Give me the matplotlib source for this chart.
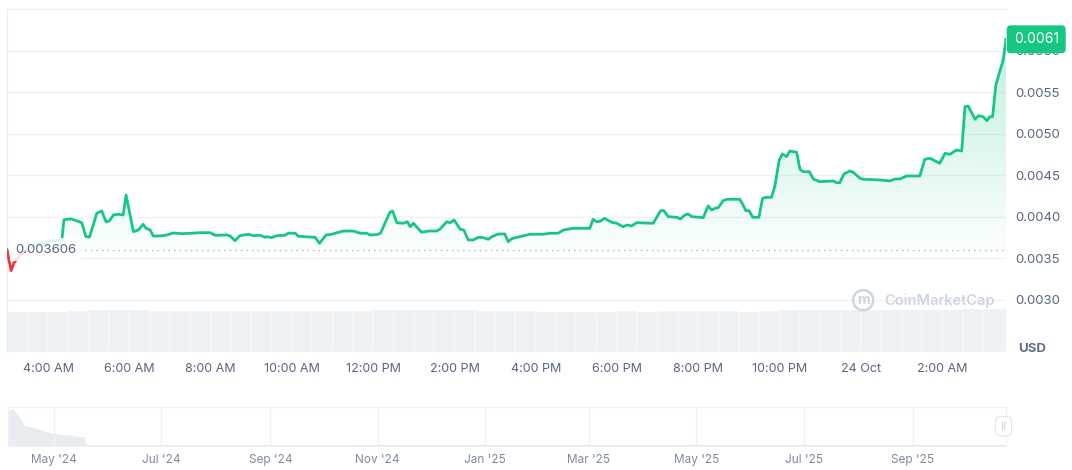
import numpy as np
import pandas as pd
import matplotlib
matplotlib.use('Agg')
from matplotlib import pyplot as plt
from matplotlib.patches import Polygon, Rectangle
import matplotlib.transforms as mtransforms

plt.rcParams['font.family'] = ['Inter', 'DejaVu Sans']

# ---------------- price data (hours counted from 00:00, 23 Oct) ----------------
hours = [2.99, 3.09, 3.16, 3.31, 3.68, 4.05, 4.34, 4.39, 4.46, 4.58, 4.83, 4.93, 5.02, 5.20, 5.32,
         5.43, 5.51, 5.61, 5.73, 5.85, 5.92, 6.10, 6.22, 6.34, 6.41, 6.51, 6.59, 6.76, 6.92, 7.08,
         7.29, 7.54, 7.74, 7.99, 8.11, 8.40, 8.48, 8.60, 8.72, 8.93, 9.05, 9.22, 9.34, 9.38, 9.50,
         9.63, 9.83, 9.91, 10.08, 10.16, 10.57, 10.68, 10.84, 10.98, 11.26, 11.51, 11.68, 11.84, 11.92, 12.09,
         12.18, 12.41, 12.48, 12.58, 12.74, 12.84, 12.91, 12.99, 13.19, 13.36, 13.56, 13.64, 13.81, 13.89, 13.99,
         14.14, 14.23, 14.34, 14.46, 14.59, 14.71, 14.83, 14.92, 15.08, 15.24, 15.32, 15.41, 15.61, 15.86, 16.18,
         16.35, 16.55, 16.68, 16.92, 17.33, 17.41, 17.50, 17.58, 17.69, 17.87, 17.99, 18.15, 18.25, 18.36, 18.48,
         18.89, 19.07, 19.15, 19.26, 19.47, 19.56, 19.67, 19.75, 19.84, 20.12, 20.24, 20.33, 20.41, 20.49, 20.61,
         20.70, 21.02, 21.10, 21.17, 21.25, 21.34, 21.49, 21.58, 21.68, 21.80, 21.88, 21.99, 22.07, 22.17, 22.25,
         22.42, 22.50, 22.58, 22.73, 22.83, 22.99, 23.32, 23.40, 23.48, 23.58, 23.73, 23.81, 23.98, 24.06, 24.47,
         24.71, 24.84, 24.96, 25.12, 25.45, 25.57, 25.70, 25.94, 26.07, 26.19, 26.35, 26.48, 26.56, 26.64, 26.81,
         26.89, 27.01, 27.10, 27.17, 27.24, 27.32, 27.50, 27.57]
price = [0.003606, 0.003353, 0.003446, 0.003542, 0.003663, 0.003711, 0.003723, 0.003964, 0.003972, 0.003976,
         0.003931, 0.003763, 0.003759, 0.004045, 0.004072, 0.003940, 0.003955, 0.004024, 0.004033, 0.004024,
         0.004265, 0.003823, 0.003843, 0.003912, 0.003864, 0.003843, 0.003771, 0.003771, 0.003783, 0.003807,
         0.003799, 0.003804, 0.003811, 0.003811, 0.003780, 0.003783, 0.003771, 0.003714, 0.003775, 0.003792,
         0.003775, 0.003780, 0.003755, 0.003763, 0.003751, 0.003775, 0.003780, 0.003804, 0.003804, 0.003767,
         0.003755, 0.003683, 0.003783, 0.003792, 0.003831, 0.003831, 0.003804, 0.003804, 0.003783, 0.003787,
         0.003804, 0.004057, 0.004072, 0.003931, 0.003924, 0.003943, 0.003883, 0.003924, 0.003816, 0.003831,
         0.003831, 0.003852, 0.003943, 0.003931, 0.003964, 0.003852, 0.003843, 0.003723, 0.003723, 0.003755,
         0.003751, 0.003731, 0.003763, 0.003795, 0.003795, 0.003702, 0.003739, 0.003763, 0.003792, 0.003792,
         0.003804, 0.003804, 0.003843, 0.003864, 0.003864, 0.003972, 0.003943, 0.003948, 0.003984, 0.003936,
         0.003924, 0.003883, 0.003904, 0.003892, 0.003931, 0.003924, 0.004076, 0.004076, 0.004004, 0.003996,
         0.003976, 0.004024, 0.004036, 0.004004, 0.003992, 0.004133, 0.004084, 0.004105, 0.004112, 0.004196,
         0.004213, 0.004213, 0.004145, 0.004076, 0.004076, 0.003996, 0.003996, 0.004225, 0.004237, 0.004237,
         0.004365, 0.004687, 0.004759, 0.004727, 0.004795, 0.004780, 0.004575, 0.004546, 0.004546, 0.004458,
         0.004425, 0.004434, 0.004413, 0.004413, 0.004518, 0.004554, 0.004539, 0.004466, 0.004454, 0.004446,
         0.004434, 0.004458, 0.004458, 0.004494, 0.004494, 0.004695, 0.004707, 0.004647, 0.004767, 0.004755,
         0.004807, 0.004795, 0.005329, 0.005337, 0.005177, 0.005220, 0.005208, 0.005160, 0.005208, 0.005208,
         0.005590, 0.005892, 0.006141]
open_price = 0.003606
last_label = '0.0061'

# volume bars, one per half hour (relative units)
vol_start = 3.0
volume = [39.5, 39.5, 40, 40.5, 41.5, 42, 41.5, 41, 41, 41, 40.5, 41, 40.5, 40.5, 41, 40.5, 41, 41,
          41.5, 42, 41.5, 41.5, 41.5, 41, 41, 40.5, 40, 40, 40, 40, 40.5, 40, 40.5, 40.5, 40.5, 40.5,
          40, 40.5, 41.5, 42, 41.5, 41.5, 41.5, 41.5, 42, 42, 42, 42.5, 42.5, 43]

yticks = [0.0030, 0.0035, 0.0040, 0.0045, 0.0050, 0.0055, 0.0060]
xticks = [4, 6, 8, 10, 12, 14, 16, 18, 20, 22, 24, 26]
xtick_labels = ['4:00 AM', '6:00 AM', '8:00 AM', '10:00 AM', '12:00 PM', '2:00 PM', '4:00 PM',
                '6:00 PM', '8:00 PM', '10:00 PM', '24 Oct', '2:00 AM']

# navigator (full history)
nav_dates = ['2024-04-05', '2024-04-08', '2024-04-12', '2024-04-14', '2024-04-18', '2024-04-22',
             '2024-04-25', '2024-04-29', '2024-05-05', '2024-05-10', '2024-05-18', '2024-05-19',
             '2025-10-24']
nav_price = [0.386, 0.42, 0.306, 0.229, 0.211, 0.191, 0.165, 0.142, 0.126, 0.111, 0.096, 0.004, 0.006]
nav_ticks = ['2024-05-01', '2024-07-01', '2024-09-01', '2024-11-01', '2025-01-01', '2025-03-01',
             '2025-05-01', '2025-07-01', '2025-09-01']

GREEN = '#16c784'
RED = '#ea3943'
GRID = '#eff2f5'
TXT = '#58667e'

hours = np.array(hours)
price = np.array(price)
xmin, xmax = 2.99, 27.57
ymin, ymax = 0.0023735, 0.006506

fig = plt.figure(figsize=(10.72, 4.70), dpi=100)
ax = fig.add_axes([0.00653, 0.2511, 0.9319, 0.7298])

# volume underneath
vax = ax.twinx()
vol_x = vol_start + 0.5 * np.arange(len(volume))
vax.bar(vol_x, volume, width=0.5, align='edge', color='#eef1f4', edgecolor='white', linewidth=0.3)
vax.set_ylim(0, 343)
vax.axis('off')
vax.set_zorder(0)
ax.set_zorder(1)
ax.patch.set_visible(False)

# gradient fill above the open price
above = np.maximum(price, open_price)
verts = np.column_stack([np.r_[hours, hours[-1], hours[0]], np.r_[above, open_price, open_price]])
clip = Polygon(verts, closed=True, transform=ax.transData)
grad = np.zeros((256, 1, 4))
grad[:, 0, :3] = matplotlib.colors.to_rgb(GREEN)
grad[:, 0, 3] = np.linspace(0.30, 0.02, 256)
im = ax.imshow(grad, extent=[xmin, xmax, open_price, ymax], aspect='auto', origin='upper', zorder=1)
im.set_clip_path(clip)

ax.fill_between(hours, price, open_price, where=price < open_price, interpolate=True,
                color=RED, alpha=0.08, linewidth=0, zorder=1)

# line: green above the open price, red below
up = ax.plot(hours, price, color=GREEN, lw=2, zorder=3, solid_joinstyle='round')[0]
up.set_clip_path(Rectangle((xmin, open_price), xmax - xmin, ymax - open_price, transform=ax.transData))
dn = ax.plot(hours, price, color=RED, lw=2, zorder=3, solid_joinstyle='round')[0]
dn.set_clip_path(Rectangle((xmin, ymin), xmax - xmin, open_price - ymin, transform=ax.transData))

ax.axhline(open_price, color='#a6b0c3', lw=1, ls=(0, (1, 3)), zorder=2)
trans = mtransforms.blended_transform_factory(ax.transAxes, ax.transData)
ax.text(0.008, open_price, '0.003606', transform=trans, ha='left', va='center', fontsize=9.5,
        color=TXT, zorder=4, bbox=dict(boxstyle='square,pad=0.4', fc='white', ec='none', alpha=0.85))

ax.set_xlim(xmin, xmax)
ax.set_ylim(ymin, ymax)
ax.set_yticks(yticks)
ax.set_yticklabels(['%.4f' % t for t in yticks])
ax.yaxis.tick_right()
ax.set_xticks(xticks)
ax.set_xticklabels(xtick_labels)
ax.tick_params(axis='y', length=0, pad=7, labelsize=9.5, labelcolor=TXT)
ax.tick_params(axis='x', length=0, pad=8, labelsize=9, labelcolor=TXT)
ax.grid(axis='y', color=GRID, lw=1)
ax.set_axisbelow(True)
for s in ['right', 'bottom']:
    ax.spines[s].set_visible(False)
for s in ['top', 'left']:
    ax.spines[s].set_color('#e8ebef')

# last price tag
ax.annotate(last_label, xy=(1.0, price[-1]), xycoords=trans, xytext=(5.5, 0), textcoords='offset points',
            ha='left', va='center', fontsize=10, color='white', zorder=6, annotation_clip=False,
            bbox=dict(boxstyle='round,pad=0.5,rounding_size=0.3', fc=GREEN, ec='none'))

# watermark
ax.text(0.857, 0.151, 'm', transform=ax.transAxes, ha='center', va='center', fontsize=10,
        color='#cfd5de', fontweight='bold', zorder=2,
        bbox=dict(boxstyle='circle,pad=0.22', fc='none', ec='#cfd5de', lw=1.8))
ax.text(0.878, 0.148, 'CoinMarketCap', transform=ax.transAxes, ha='left', va='center', fontsize=10.5,
        color='#cfd5de', fontweight='semibold', zorder=2)

fig.text(1032 / 1072, 1 - 349 / 470, 'USD', ha='center', va='center', fontsize=9.5,
         fontweight='bold', color='#616e85')

# navigator
nav = fig.add_axes([8 / 1072, 1 - 446 / 470, 998 / 1072, 39.5 / 470])
nd = pd.to_datetime(nav_dates)
nav.fill_between(nd, nav_price, 0, color='#e9edf1', linewidth=0)
nav.plot(nd, nav_price, color='#dfe4ea', lw=0.6)
nav.set_xlim(pd.Timestamp('2024-04-05'), pd.Timestamp('2025-10-24'))
nav.set_ylim(0, 0.46)
nt = pd.to_datetime(nav_ticks)
nav.set_xticks(nt)
nav.set_xticklabels([d.strftime("%b '%y") for d in nt])
nav.set_yticks([])
nav.grid(axis='x', color=GRID, lw=1)
nav.tick_params(axis='x', length=0, pad=6, labelsize=8.5, labelcolor='#808a9d')
for s in nav.spines.values():
    s.set_color(GRID)
nav.text(0.9975, 0.5, '||', transform=nav.transAxes, ha='center', va='center', fontsize=5.5,
         color='#a6b0c3', zorder=5, clip_on=False,
         bbox=dict(boxstyle='round,pad=0.7,rounding_size=0.6', fc='white', ec='#e3e7ec', lw=0.8))

fig.savefig('out.png', dpi=100)
